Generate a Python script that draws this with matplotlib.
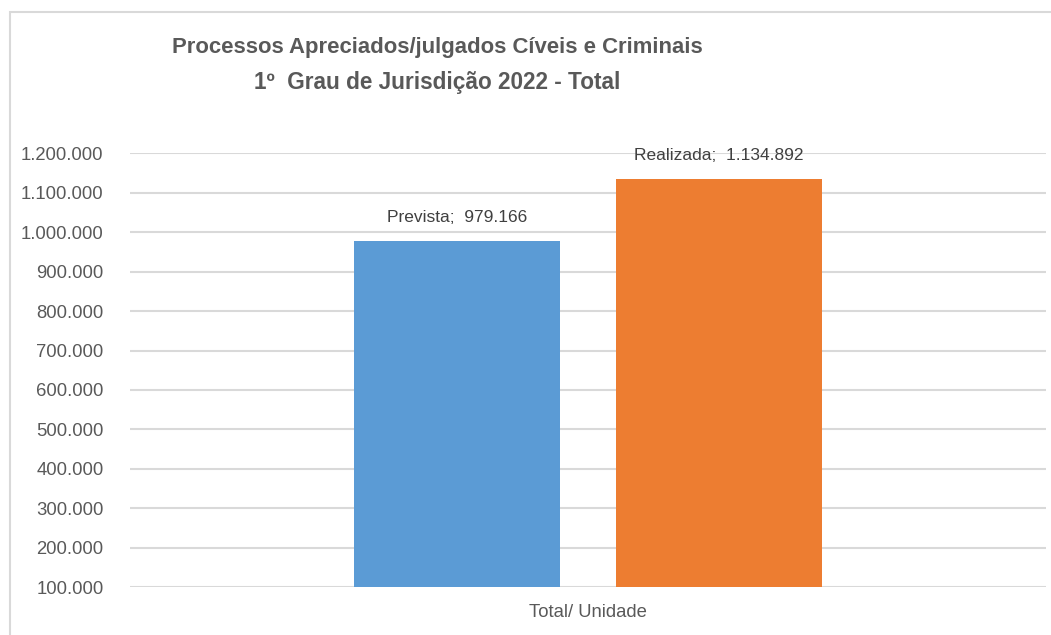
import matplotlib
matplotlib.use("Agg")
import matplotlib.pyplot as plt
from matplotlib.patches import Rectangle
from matplotlib.ticker import FuncFormatter

series = ["Prevista", "Realizada"]
values = [979166, 1134892]
colors = ["#5B9BD5", "#ED7D31"]
category = "Total/ Unidade"
yticks = [100000, 200000, 300000, 400000, 500000, 600000,
          700000, 800000, 900000, 1000000, 1100000, 1200000]

plt.rcParams['font.family'] = ['Liberation Sans', 'DejaVu Sans']
gray = "#595959"

def fmt(v):
    return f"{int(v):,}".replace(",", ".")

fig = plt.figure(figsize=(10.51, 6.35), dpi=100)
# chart border (right and bottom edges are cropped in the original)
fig.patches.append(Rectangle((10/1051, -0.1), 1.2, 1 - 12/635 + 0.1,
                             transform=fig.transFigure, fill=False,
                             edgecolor="#d9d9d9", linewidth=1.5))

ax = fig.add_axes([130/1051, 1 - 587/635, 916/1051, (587 - 153.5)/635])
width = 0.224
offsets = [-0.143, 0.143]
for name, v, c, off in zip(series, values, colors, offsets):
    ax.bar(off, v, width=width, color=c, zorder=3)
    ax.text(off, v + 40000, f"{name};  {fmt(v)}", ha="center", va="bottom",
            fontsize=12.5, color="#404040")

ax.set_xlim(-0.5, 0.5)
ax.set_ylim(100000, 1200000)
ax.set_yticks(yticks)
ax.yaxis.set_major_formatter(FuncFormatter(lambda v, p: fmt(v)))
ax.set_xticks([0])
ax.set_xticklabels([category])
ax.tick_params(axis="both", length=0, labelsize=13.3, colors=gray)
ax.tick_params(axis="x", pad=12)
ax.tick_params(axis="y", pad=19)
ax.grid(axis="y", color="#d9d9d9", linewidth=1.5, zorder=0)
for s in ax.spines.values():
    s.set_visible(False)

fig.text(437/1051, 1 - 48/635, "Processos Apreciados/julgados Cíveis e Criminais",
         ha="center", va="center", fontsize=15.9, fontweight="bold", color=gray)
fig.text(437/1051, 1 - 82/635, "1º  Grau de Jurisdição 2022 - Total",
         ha="center", va="center", fontsize=16.3, fontweight="bold", color=gray)

fig.savefig("out.png", dpi=100)
